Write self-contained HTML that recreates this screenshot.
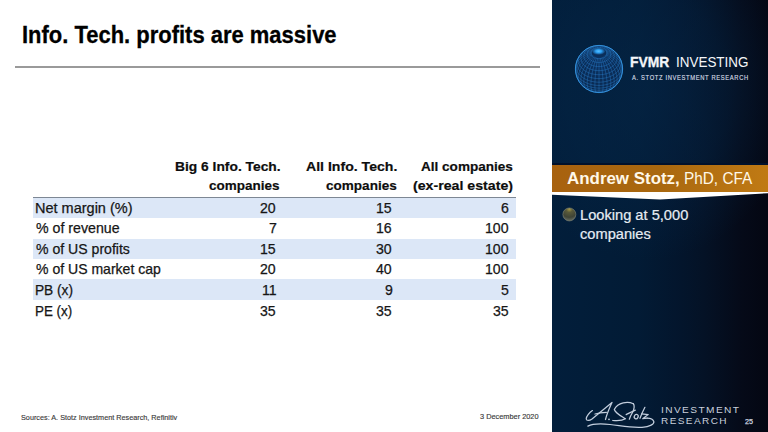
<!DOCTYPE html>
<html><head><meta charset="utf-8">
<style>
html,body{margin:0;padding:0;}
body{width:768px;height:432px;overflow:hidden;position:relative;background:#fff;font-family:"Liberation Sans",sans-serif;}
.t{position:absolute;white-space:nowrap;transform-origin:0 0;}
.a{position:absolute;}
</style></head><body>
<div class="a" style="left:15px;top:66.1px;width:525px;height:1.5px;background:#9a9a9a"></div>
<div class="a" style="left:33px;top:196.8px;width:483px;height:1.2px;background:#7d8794"></div>
<div class="a" style="left:33px;top:198px;width:483px;height:19.9px;background:#dce7f7"></div>
<div class="a" style="left:33px;top:238.6px;width:483px;height:20.4px;background:#dce7f7"></div>
<div class="a" style="left:33px;top:279.4px;width:483px;height:20.6px;background:#dce7f7"></div>

<div class="a" style="left:552px;top:0;width:216px;height:432px;background:radial-gradient(ellipse 150px 170px at 95px 90px,rgba(5,40,75,0.55) 0%,rgba(5,40,75,0.35) 55%,rgba(5,40,75,0) 100%),linear-gradient(to right,#021e3b 0%,#021b35 40%,#03152c 60%,#041226 70%,#050a18 88%,#040612 100%)"></div>
<div class="a" style="left:552px;top:162.5px;width:216px;height:2.5px;background:#01112b"></div>
<div class="a" style="left:552px;top:165px;width:216px;height:27px;background:linear-gradient(to right,#a8620f 0%,#a9680f 50%,#c07a14 100%)"></div>
<svg class="a" style="left:552px;top:190px" width="216" height="12" viewBox="0 0 216 12">
<polygon points="0,2 216,2 216,3.2 108,9.6 0,4.8" fill="#fff"/>
</svg>

<svg class="a" style="left:569px;top:38.5px" width="60" height="60" viewBox="0 0 60 60">
<defs>
<radialGradient id="gf" cx="50%" cy="40%" r="60%">
<stop offset="0" stop-color="#0b3262"/><stop offset="1" stop-color="#09284e"/>
</radialGradient>
<radialGradient id="gp" cx="50%" cy="50%" r="50%">
<stop offset="0" stop-color="#5cc0ff"/><stop offset="0.45" stop-color="#2a9ef0"/><stop offset="1" stop-color="#2a8ee0" stop-opacity="0.15"/>
</radialGradient>
</defs>
<circle cx="30" cy="30" r="23.7" fill="url(#gf)"/>
<path d="M30.00,53.47 L30.95,53.45 L31.89,53.40 L32.83,53.32 L33.76,53.20 L34.68,53.04 L35.59,52.86 L36.48,52.64 L37.35,52.38 L38.21,52.10 L39.04,51.79 L39.85,51.44 M20.15,51.44 L20.96,51.79 L21.79,52.10 L22.65,52.38 L23.52,52.64 L24.41,52.86 L25.32,53.04 L26.24,53.20 L27.17,53.32 L28.11,53.40 L29.05,53.45 L30.00,53.47 M30.00,52.69 L31.07,52.67 L32.14,52.61 L33.20,52.51 L34.25,52.38 L35.29,52.20 L36.32,51.99 L37.32,51.74 L38.31,51.46 L39.28,51.14 L40.22,50.78 L41.13,50.40 L42.01,49.97 L42.86,49.52 L43.68,49.04 L44.45,48.53 L45.19,47.99 L45.88,47.42 L46.53,46.83 M13.47,46.83 L14.12,47.42 L14.81,47.99 L15.55,48.53 L16.32,49.04 L17.14,49.52 L17.99,49.97 L18.87,50.40 L19.78,50.78 L20.72,51.14 L21.69,51.46 L22.68,51.74 L23.68,51.99 L24.71,52.20 L25.75,52.38 L26.80,52.51 L27.86,52.61 L28.93,52.67 L30.00,52.69 M30.00,51.21 L31.16,51.19 L32.32,51.13 L33.47,51.02 L34.61,50.87 L35.74,50.69 L36.85,50.46 L37.95,50.19 L39.02,49.88 L40.07,49.53 L41.09,49.15 L42.08,48.73 L43.04,48.27 L43.96,47.78 L44.84,47.25 L45.68,46.70 L46.48,46.11 L47.23,45.50 L47.94,44.86 L48.60,44.20 L49.21,43.51 L49.76,42.80 L50.26,42.07 L50.70,41.33 M9.30,41.33 L9.74,42.07 L10.24,42.80 L10.79,43.51 L11.40,44.20 L12.06,44.86 L12.77,45.50 L13.52,46.11 L14.32,46.70 L15.16,47.25 L16.04,47.78 L16.96,48.27 L17.92,48.73 L18.91,49.15 L19.93,49.53 L20.98,49.88 L22.05,50.19 L23.15,50.46 L24.26,50.69 L25.39,50.87 L26.53,51.02 L27.68,51.13 L28.84,51.19 L30.00,51.21 M30.00,49.09 L31.22,49.07 L32.43,49.00 L33.64,48.89 L34.83,48.74 L36.02,48.54 L37.18,48.30 L38.33,48.02 L39.45,47.70 L40.55,47.33 L41.62,46.93 L42.66,46.49 L43.66,46.01 L44.63,45.49 L45.55,44.95 L46.43,44.36 L47.27,43.75 L48.06,43.11 L48.80,42.44 L49.49,41.74 L50.13,41.02 L50.71,40.28 L51.23,39.51 L51.70,38.73 L52.10,37.94 L52.45,37.13 L52.73,36.30 M7.27,36.30 L7.55,37.13 L7.90,37.94 L8.30,38.73 L8.77,39.51 L9.29,40.28 L9.87,41.02 L10.51,41.74 L11.20,42.44 L11.94,43.11 L12.73,43.75 L13.57,44.36 L14.45,44.95 L15.37,45.49 L16.34,46.01 L17.34,46.49 L18.38,46.93 L19.45,47.33 L20.55,47.70 L21.67,48.02 L22.82,48.30 L23.98,48.54 L25.17,48.74 L26.36,48.89 L27.57,49.00 L28.78,49.07 L30.00,49.09 M30.00,46.39 L31.24,46.37 L32.47,46.30 L33.69,46.19 L34.91,46.04 L36.11,45.84 L37.29,45.59 L38.46,45.31 L39.60,44.98 L40.71,44.61 L41.80,44.20 L42.85,43.75 L43.87,43.26 L44.85,42.74 L45.79,42.18 L46.69,41.59 L47.54,40.97 L48.34,40.32 L49.09,39.64 L49.79,38.93 L50.44,38.20 L51.03,37.44 L51.56,36.67 L52.03,35.88 L52.44,35.07 L52.80,34.24 L53.08,33.41 L53.31,32.56 L53.47,31.71 L53.57,30.86 L53.60,30.00 M6.43,30.86 L6.53,31.71 L6.69,32.56 L6.92,33.41 L7.20,34.24 L7.56,35.07 L7.97,35.88 L8.44,36.67 L8.97,37.44 L9.56,38.20 L10.21,38.93 L10.91,39.64 L11.66,40.32 L12.46,40.97 L13.31,41.59 L14.21,42.18 L15.15,42.74 L16.13,43.26 L17.15,43.75 L18.20,44.20 L19.29,44.61 L20.40,44.98 L21.54,45.31 L22.71,45.59 L23.89,45.84 L25.09,46.04 L26.31,46.19 L27.53,46.30 L28.76,46.37 L30.00,46.39 M30.00,43.20 L31.22,43.17 L32.43,43.11 L33.64,43.00 L34.83,42.84 L36.02,42.65 L37.18,42.41 L38.33,42.12 L39.45,41.80 L40.55,41.44 L41.62,41.03 L42.66,40.59 L43.66,40.11 L44.63,39.60 L45.55,39.05 L46.43,38.47 L47.27,37.86 L48.06,37.21 L48.80,36.54 L49.49,35.85 L50.13,35.12 L50.71,34.38 L51.23,33.62 L51.70,32.84 L52.10,32.04 L52.45,31.23 L52.73,30.41 L52.96,29.58 L53.11,28.74 L53.21,27.90 L53.24,27.05 L53.21,26.21 L53.11,25.36 L52.96,24.53 M7.04,24.53 L6.89,25.36 L6.79,26.21 L6.76,27.05 L6.79,27.90 L6.89,28.74 L7.04,29.58 L7.27,30.41 L7.55,31.23 L7.90,32.04 L8.30,32.84 L8.77,33.62 L9.29,34.38 L9.87,35.12 L10.51,35.85 L11.20,36.54 L11.94,37.21 L12.73,37.86 L13.57,38.47 L14.45,39.05 L15.37,39.60 L16.34,40.11 L17.34,40.59 L18.38,41.03 L19.45,41.44 L20.55,41.80 L21.67,42.12 L22.82,42.41 L23.98,42.65 L25.17,42.84 L26.36,43.00 L27.57,43.11 L28.78,43.17 L30.00,43.20 M30.00,39.60 L31.16,39.58 L32.32,39.51 L33.47,39.41 L34.61,39.26 L35.74,39.07 L36.85,38.84 L37.95,38.58 L39.02,38.27 L40.07,37.92 L41.09,37.54 L42.08,37.11 L43.04,36.66 L43.96,36.17 L44.84,35.64 L45.68,35.09 L46.48,34.50 L47.23,33.89 L47.94,33.25 L48.60,32.58 L49.21,31.90 L49.76,31.19 L50.26,30.46 L50.70,29.71 L51.09,28.95 L51.42,28.18 L51.69,27.40 L51.90,26.60 L52.06,25.80 L52.15,25.00 L52.18,24.19 L52.15,23.39 L52.06,22.58 L51.90,21.78 L51.69,20.99 L51.42,20.21 L51.09,19.43 M8.91,19.43 L8.58,20.21 L8.31,20.99 L8.10,21.78 L7.94,22.58 L7.85,23.39 L7.82,24.19 L7.85,25.00 L7.94,25.80 L8.10,26.60 L8.31,27.40 L8.58,28.18 L8.91,28.95 L9.30,29.71 L9.74,30.46 L10.24,31.19 L10.79,31.90 L11.40,32.58 L12.06,33.25 L12.77,33.89 L13.52,34.50 L14.32,35.09 L15.16,35.64 L16.04,36.17 L16.96,36.66 L17.92,37.11 L18.91,37.54 L19.93,37.92 L20.98,38.27 L22.05,38.58 L23.15,38.84 L24.26,39.07 L25.39,39.26 L26.53,39.41 L27.68,39.51 L28.84,39.58 L30.00,39.60 M30.00,35.71 L31.07,35.69 L32.14,35.63 L33.20,35.53 L34.25,35.40 L35.29,35.23 L36.32,35.01 L37.32,34.77 L38.31,34.48 L39.28,34.16 L40.22,33.81 L41.13,33.42 L42.01,33.00 L42.86,32.55 L43.68,32.06 L44.45,31.55 L45.19,31.01 L45.88,30.45 L46.53,29.86 L47.14,29.24 L47.70,28.61 L48.21,27.96 L48.67,27.29 L49.08,26.60 L49.44,25.90 L49.74,25.19 L49.99,24.46 L50.19,23.73 L50.33,23.00 L50.41,22.25 L50.44,21.51 L50.41,20.77 L50.33,20.03 L50.19,19.29 L49.99,18.56 L49.74,17.84 L49.44,17.12 L49.08,16.42 L48.67,15.74 L48.21,15.07 L47.70,14.41 L47.14,13.78 M12.86,13.78 L12.30,14.41 L11.79,15.07 L11.33,15.74 L10.92,16.42 L10.56,17.12 L10.26,17.84 L10.01,18.56 L9.81,19.29 L9.67,20.03 L9.59,20.77 L9.56,21.51 L9.59,22.25 L9.67,23.00 L9.81,23.73 L10.01,24.46 L10.26,25.19 L10.56,25.90 L10.92,26.60 L11.33,27.29 L11.79,27.96 L12.30,28.61 L12.86,29.24 L13.47,29.86 L14.12,30.45 L14.81,31.01 L15.55,31.55 L16.32,32.06 L17.14,32.55 L17.99,33.00 L18.87,33.42 L19.78,33.81 L20.72,34.16 L21.69,34.48 L22.68,34.77 L23.68,35.01 L24.71,35.23 L25.75,35.40 L26.80,35.53 L27.86,35.63 L28.93,35.69 L30.00,35.71 M30.00,31.65 L30.95,31.63 L31.89,31.58 L32.83,31.49 L33.76,31.37 L34.68,31.22 L35.59,31.03 L36.48,30.81 L37.35,30.56 L38.21,30.28 L39.04,29.96 L39.85,29.62 L40.63,29.25 L41.38,28.85 L42.10,28.42 L42.78,27.97 L43.44,27.49 L44.05,26.99 L44.63,26.47 L45.16,25.93 L45.66,25.37 L46.11,24.79 L46.52,24.20 L46.88,23.59 L47.19,22.97 L47.46,22.34 L47.68,21.70 L47.86,21.05 L47.98,20.40 L48.05,19.75 L48.08,19.09 L48.05,18.43 L47.98,17.78 L47.86,17.12 L47.68,16.48 L47.46,15.84 L47.19,15.21 L46.88,14.59 L46.52,13.98 L46.11,13.39 L45.66,12.81 L45.16,12.25 L44.63,11.71 L44.05,11.18 L43.44,10.68 L42.78,10.21 L42.10,9.75 L41.38,9.33 L40.63,8.93 M19.37,8.93 L18.62,9.33 L17.90,9.75 L17.22,10.21 L16.56,10.68 L15.95,11.18 L15.37,11.71 L14.84,12.25 L14.34,12.81 L13.89,13.39 L13.48,13.98 L13.12,14.59 L12.81,15.21 L12.54,15.84 L12.32,16.48 L12.14,17.12 L12.02,17.78 L11.95,18.43 L11.92,19.09 L11.95,19.75 L12.02,20.40 L12.14,21.05 L12.32,21.70 L12.54,22.34 L12.81,22.97 L13.12,23.59 L13.48,24.20 L13.89,24.79 L14.34,25.37 L14.84,25.93 L15.37,26.47 L15.95,26.99 L16.56,27.49 L17.22,27.97 L17.90,28.42 L18.62,28.85 L19.37,29.25 L20.15,29.62 L20.96,29.96 L21.79,30.28 L22.65,30.56 L23.52,30.81 L24.41,31.03 L25.32,31.22 L26.24,31.37 L27.17,31.49 L28.11,31.58 L29.05,31.63 L30.00,31.65 M30.00,27.53 L30.79,27.52 L31.59,27.48 L32.37,27.40 L33.15,27.30 L33.93,27.17 L34.69,27.02 L35.44,26.83 L36.17,26.62 L36.89,26.38 L37.58,26.12 L38.26,25.83 L38.92,25.52 L39.55,25.18 L40.15,24.83 L40.73,24.45 L41.27,24.05 L41.79,23.63 L42.27,23.19 L42.72,22.73 L43.14,22.26 L43.52,21.78 L43.86,21.28 L44.16,20.77 L44.43,20.25 L44.65,19.72 L44.84,19.19 L44.98,18.64 L45.09,18.10 L45.15,17.55 L45.17,17.00 L45.15,16.44 L45.09,15.89 L44.98,15.35 L44.84,14.80 L44.65,14.27 L44.43,13.74 L44.16,13.22 L43.86,12.71 L43.52,12.21 L43.14,11.73 L42.72,11.26 L42.27,10.80 L41.79,10.36 L41.27,9.94 L40.73,9.54 L40.15,9.16 L39.55,8.81 L38.92,8.47 L38.26,8.16 L37.58,7.87 L36.89,7.61 L36.17,7.37 L35.44,7.16 L34.69,6.97 L33.93,6.82 L33.15,6.69 L32.37,6.59 L31.59,6.52 L30.79,6.47 L30.00,6.46 L29.21,6.47 L28.41,6.52 L27.63,6.59 L26.85,6.69 L26.07,6.82 L25.31,6.97 L24.56,7.16 L23.83,7.37 L23.11,7.61 L22.42,7.87 L21.74,8.16 L21.08,8.47 L20.45,8.81 L19.85,9.16 L19.27,9.54 L18.73,9.94 L18.21,10.36 L17.73,10.80 L17.28,11.26 L16.86,11.73 L16.48,12.21 L16.14,12.71 L15.84,13.22 L15.57,13.74 L15.35,14.27 L15.16,14.80 L15.02,15.35 L14.91,15.89 L14.85,16.44 L14.83,17.00 L14.85,17.55 L14.91,18.10 L15.02,18.64 L15.16,19.19 L15.35,19.72 L15.57,20.25 L15.84,20.77 L16.14,21.28 L16.48,21.78 L16.86,22.26 L17.28,22.73 L17.73,23.19 L18.21,23.63 L18.73,24.05 L19.27,24.45 L19.85,24.83 L20.45,25.18 L21.08,25.52 L21.74,25.83 L22.42,26.12 L23.11,26.38 L23.83,26.62 L24.56,26.83 L25.31,27.02 L26.07,27.17 L26.85,27.30 L27.63,27.40 L28.41,27.48 L29.21,27.52 L30.00,27.53 M30.00,23.49 L30.62,23.48 L31.23,23.45 L31.85,23.39 L32.45,23.32 L33.05,23.22 L33.65,23.09 L34.23,22.95 L34.80,22.79 L35.36,22.60 L35.90,22.40 L36.43,22.17 L36.94,21.93 L37.43,21.67 L37.90,21.39 L38.34,21.09 L38.77,20.78 L39.17,20.46 L39.55,20.12 L39.90,19.76 L40.22,19.40 L40.51,19.02 L40.78,18.63 L41.02,18.24 L41.22,17.83 L41.40,17.42 L41.54,17.00 L41.65,16.58 L41.74,16.15 L41.78,15.73 L41.80,15.30 L41.78,14.87 L41.74,14.44 L41.65,14.02 L41.54,13.59 L41.40,13.18 L41.22,12.76 L41.02,12.36 L40.78,11.96 L40.51,11.58 L40.22,11.20 L39.90,10.83 L39.55,10.48 L39.17,10.14 L38.77,9.81 L38.34,9.50 L37.90,9.21 L37.43,8.93 L36.94,8.67 L36.43,8.42 L35.90,8.20 L35.36,7.99 L34.80,7.81 L34.23,7.65 L33.65,7.50 L33.05,7.38 L32.45,7.28 L31.85,7.20 L31.23,7.15 L30.62,7.11 L30.00,7.10 L29.38,7.11 L28.77,7.15 L28.15,7.20 L27.55,7.28 L26.95,7.38 L26.35,7.50 L25.77,7.65 L25.20,7.81 L24.64,7.99 L24.10,8.20 L23.57,8.42 L23.06,8.67 L22.57,8.93 L22.10,9.21 L21.66,9.50 L21.23,9.81 L20.83,10.14 L20.45,10.48 L20.10,10.83 L19.78,11.20 L19.49,11.58 L19.22,11.96 L18.98,12.36 L18.78,12.76 L18.60,13.18 L18.46,13.59 L18.35,14.02 L18.26,14.44 L18.22,14.87 L18.20,15.30 L18.22,15.73 L18.26,16.15 L18.35,16.58 L18.46,17.00 L18.60,17.42 L18.78,17.83 L18.98,18.24 L19.22,18.63 L19.49,19.02 L19.78,19.40 L20.10,19.76 L20.45,20.12 L20.83,20.46 L21.23,20.78 L21.66,21.09 L22.10,21.39 L22.57,21.67 L23.06,21.93 L23.57,22.17 L24.10,22.40 L24.64,22.60 L25.20,22.79 L25.77,22.95 L26.35,23.09 L26.95,23.22 L27.55,23.32 L28.15,23.39 L28.77,23.45 L29.38,23.48 L30.00,23.49 M30.00,19.65 L30.42,19.65 L30.84,19.62 L31.26,19.59 L31.68,19.53 L32.09,19.46 L32.49,19.38 L32.89,19.28 L33.28,19.17 L33.66,19.04 L34.04,18.90 L34.40,18.75 L34.74,18.58 L35.08,18.40 L35.40,18.21 L35.71,18.01 L36.00,17.80 L36.27,17.58 L36.53,17.34 L36.77,17.10 L36.99,16.85 L37.19,16.59 L37.37,16.33 L37.54,16.06 L37.68,15.78 L37.80,15.50 L37.90,15.21 L37.97,14.92 L38.03,14.63 L38.06,14.34 L38.07,14.05 L38.06,13.75 L38.03,13.46 L37.97,13.17 L37.90,12.88 L37.80,12.60 L37.68,12.31 L37.54,12.04 L37.37,11.77 L37.19,11.50 L36.99,11.24 L36.77,10.99 L36.53,10.75 L36.27,10.52 L36.00,10.30 L35.71,10.08 L35.40,9.88 L35.08,9.69 L34.74,9.51 L34.40,9.34 L34.04,9.19 L33.66,9.05 L33.28,8.93 L32.89,8.81 L32.49,8.71 L32.09,8.63 L31.68,8.56 L31.26,8.51 L30.84,8.47 L30.42,8.45 L30.00,8.44 L29.58,8.45 L29.16,8.47 L28.74,8.51 L28.32,8.56 L27.91,8.63 L27.51,8.71 L27.11,8.81 L26.72,8.93 L26.34,9.05 L25.96,9.19 L25.60,9.34 L25.26,9.51 L24.92,9.69 L24.60,9.88 L24.29,10.08 L24.00,10.30 L23.73,10.52 L23.47,10.75 L23.23,10.99 L23.01,11.24 L22.81,11.50 L22.63,11.77 L22.46,12.04 L22.32,12.31 L22.20,12.60 L22.10,12.88 L22.03,13.17 L21.97,13.46 L21.94,13.75 L21.93,14.05 L21.94,14.34 L21.97,14.63 L22.03,14.92 L22.10,15.21 L22.20,15.50 L22.32,15.78 L22.46,16.06 L22.63,16.33 L22.81,16.59 L23.01,16.85 L23.23,17.10 L23.47,17.34 L23.73,17.58 L24.00,17.80 L24.29,18.01 L24.60,18.21 L24.92,18.40 L25.26,18.58 L25.60,18.75 L25.96,18.90 L26.34,19.04 L26.72,19.17 L27.11,19.28 L27.51,19.38 L27.91,19.46 L28.32,19.53 L28.74,19.59 L29.16,19.62 L29.58,19.65 L30.00,19.65 M30.00,53.60 L30.00,53.54 L30.00,53.42 L30.00,53.24 L30.00,53.00 L30.00,52.69 L30.00,52.31 L30.00,51.88 L30.00,51.39 L30.00,50.84 L30.00,50.23 L30.00,49.57 L30.00,48.85 L30.00,48.08 L30.00,47.26 L30.00,46.39 L30.00,45.48 L30.00,44.53 L30.00,43.54 L30.00,42.51 L30.00,41.44 L30.00,40.35 L30.00,39.22 L30.00,38.07 L30.00,36.90 L30.00,35.71 L30.00,34.50 L30.00,33.28 L30.00,32.06 L30.00,30.82 L30.00,29.59 L30.00,28.35 L30.00,27.12 L30.00,25.90 L30.00,24.69 L30.00,23.49 L30.00,22.32 L30.00,21.16 L30.00,20.03 L30.00,18.92 M32.90,53.42 L33.05,53.36 L33.18,53.23 L33.32,53.04 L33.44,52.79 L33.55,52.47 L33.65,52.09 L33.74,51.65 L33.83,51.16 L33.90,50.60 L33.96,49.99 L34.01,49.32 L34.05,48.60 L34.08,47.83 L34.09,47.01 L34.10,46.14 L34.09,45.23 L34.08,44.28 L34.05,43.29 L34.01,42.26 L33.96,41.20 L33.90,40.11 L33.83,38.99 L33.74,37.84 L33.65,36.68 L33.55,35.49 L33.44,34.29 L33.32,33.08 L33.18,31.86 L33.05,30.64 L32.90,29.41 L32.74,28.19 L32.58,26.97 L32.41,25.76 L32.23,24.56 L32.05,23.37 L31.86,22.20 L31.67,21.06 L31.47,19.94 L31.27,18.84 M36.00,52.81 L36.27,52.66 L36.53,52.44 L36.77,52.17 L36.99,51.83 L37.19,51.43 L37.37,50.98 L37.54,50.47 L37.68,49.90 L37.80,49.27 L37.90,48.60 L37.97,47.87 L38.03,47.10 L38.06,46.27 L38.07,45.41 L38.06,44.50 L38.03,43.55 L37.97,42.56 L37.90,41.54 L37.80,40.49 L37.68,39.41 L37.54,38.30 L37.37,37.17 L37.19,36.02 L36.99,34.85 L36.77,33.67 L36.53,32.48 L36.27,31.29 L36.00,30.09 L35.71,28.89 L35.40,27.69 L35.08,26.50 L34.74,25.32 L34.40,24.15 L34.04,23.00 L33.66,21.87 L33.28,20.76 L32.89,19.67 L32.49,18.61 M39.17,51.72 L39.55,51.46 L39.90,51.15 L40.22,50.78 L40.51,50.36 L40.78,49.88 L41.02,49.34 L41.22,48.75 L41.40,48.11 L41.54,47.42 L41.65,46.68 L41.74,45.89 L41.78,45.07 L41.80,44.20 L41.78,43.29 L41.74,42.35 L41.65,41.37 L41.54,40.36 L41.40,39.32 L41.22,38.26 L41.02,37.17 L40.78,36.07 L40.51,34.94 L40.22,33.81 L39.90,32.66 L39.55,31.51 L39.17,30.35 L38.77,29.19 L38.34,28.04 L37.90,26.88 L37.43,25.74 L36.94,24.61 L36.43,23.49 L35.90,22.40 L35.36,21.32 L34.80,20.27 L34.23,19.24 L33.65,18.24 M42.27,50.14 L42.72,49.78 L43.14,49.36 L43.52,48.90 L43.86,48.38 L44.16,47.81 L44.43,47.19 L44.65,46.52 L44.84,45.81 L44.98,45.06 L45.09,44.26 L45.15,43.43 L45.17,42.56 L45.15,41.65 L45.09,40.72 L44.98,39.75 L44.84,38.75 L44.65,37.74 L44.43,36.70 L44.16,35.64 L43.86,34.57 L43.52,33.48 L43.14,32.39 L42.72,31.29 L42.27,30.18 L41.79,29.08 L41.27,27.97 L40.73,26.88 L40.15,25.79 L39.55,24.71 L38.92,23.65 L38.26,22.60 L37.58,21.58 L36.89,20.58 L36.17,19.60 L35.44,18.65 L34.69,17.74 M45.16,48.08 L45.66,47.61 L46.11,47.10 L46.52,46.53 L46.88,45.92 L47.19,45.27 L47.46,44.57 L47.68,43.84 L47.86,43.06 L47.98,42.25 L48.05,41.41 L48.08,40.54 L48.05,39.63 L47.98,38.71 L47.86,37.75 L47.68,36.78 L47.46,35.78 L47.19,34.78 L46.88,33.75 L46.52,32.72 L46.11,31.68 L45.66,30.64 L45.16,29.59 L44.63,28.55 L44.05,27.51 L43.44,26.47 L42.78,25.45 L42.10,24.44 L41.38,23.44 L40.63,22.46 L39.85,21.50 L39.04,20.57 L38.21,19.66 L37.35,18.78 L36.48,17.93 L35.59,17.11 M48.21,45.01 L48.67,44.39 L49.08,43.74 L49.44,43.04 L49.74,42.31 L49.99,41.55 L50.19,40.75 L50.33,39.93 L50.41,39.07 L50.44,38.20 L50.41,37.30 L50.33,36.38 L50.19,35.44 L49.99,34.49 L49.74,33.52 L49.44,32.55 L49.08,31.57 L48.67,30.58 L48.21,29.60 L47.70,28.61 L47.14,27.63 L46.53,26.65 L45.88,25.69 L45.19,24.73 L44.45,23.79 L43.68,22.87 L42.86,21.97 L42.01,21.08 L41.13,20.23 L40.22,19.40 L39.28,18.60 L38.31,17.83 L37.32,17.09 L36.32,16.39 M51.09,40.58 L51.42,39.81 L51.69,39.01 L51.90,38.19 L52.06,37.35 L52.15,36.49 L52.18,35.61 L52.15,34.71 L52.06,33.80 L51.90,32.88 L51.69,31.95 L51.42,31.02 L51.09,30.09 L50.70,29.15 L50.26,28.22 L49.76,27.29 L49.21,26.37 L48.60,25.46 L47.94,24.56 L47.23,23.67 L46.48,22.81 L45.68,21.96 L44.84,21.14 L43.96,20.34 L43.04,19.56 L42.08,18.82 L41.09,18.10 L40.07,17.42 L39.02,16.77 L37.95,16.16 L36.85,15.59 M52.96,35.47 L53.11,34.61 L53.21,33.73 L53.24,32.85 L53.21,31.95 L53.11,31.06 L52.96,30.16 L52.73,29.25 L52.45,28.36 L52.10,27.46 L51.70,26.57 L51.23,25.70 L50.71,24.83 L50.13,23.98 L49.49,23.14 L48.80,22.32 L48.06,21.53 L47.27,20.76 L46.43,20.01 L45.55,19.29 L44.63,18.60 L43.66,17.94 L42.66,17.31 L41.62,16.72 L40.55,16.17 L39.45,15.65 L38.33,15.17 L37.18,14.73 M53.60,30.00 L53.57,29.11 L53.47,28.23 L53.31,27.34 L53.08,26.47 L52.80,25.61 L52.44,24.75 L52.03,23.92 L51.56,23.10 L51.03,22.29 L50.44,21.51 L49.79,20.75 L49.09,20.02 L48.34,19.32 L47.54,18.64 L46.69,18.00 L45.79,17.38 L44.85,16.81 L43.87,16.27 L42.85,15.76 L41.80,15.30 L40.71,14.87 L39.60,14.49 L38.46,14.15 L37.29,13.85 M52.73,23.69 L52.45,22.86 L52.10,22.05 L51.70,21.26 L51.23,20.49 L50.71,19.76 L50.13,19.05 L49.49,18.37 L48.80,17.72 L48.06,17.10 L47.27,16.52 L46.43,15.98 L45.55,15.48 L44.63,15.02 L43.66,14.59 L42.66,14.21 L41.62,13.87 L40.55,13.58 L39.45,13.33 L38.33,13.13 L37.18,12.97 M50.70,18.68 L50.26,17.97 L49.76,17.30 L49.21,16.66 L48.60,16.05 L47.94,15.49 L47.23,14.96 L46.48,14.47 L45.68,14.03 L44.84,13.63 L43.96,13.28 L43.04,12.97 L42.08,12.71 L41.09,12.49 L40.07,12.33 L39.02,12.21 L37.95,12.14 L36.85,12.12 M47.70,14.41 L47.14,13.88 L46.53,13.39 L45.88,12.95 L45.19,12.55 L44.45,12.20 L43.68,11.90 L42.86,11.65 L42.01,11.45 L41.13,11.30 L40.22,11.20 L39.28,11.15 L38.31,11.16 L37.32,11.21 L36.32,11.32 M44.63,11.50 L44.05,11.13 L43.44,10.81 L42.78,10.54 L42.10,10.33 L41.38,10.18 L40.63,10.07 L39.85,10.02 L39.04,10.03 L38.21,10.09 L37.35,10.21 L36.48,10.37 L35.59,10.60 M41.79,9.56 L41.27,9.31 L40.73,9.12 L40.15,8.98 L39.55,8.90 L38.92,8.88 L38.26,8.92 L37.58,9.02 L36.89,9.17 L36.17,9.38 L35.44,9.65 L34.69,9.97 M38.77,8.09 L38.34,7.96 L37.90,7.88 L37.43,7.87 L36.94,7.92 L36.43,8.03 L35.90,8.20 L35.36,8.43 L34.80,8.72 L34.23,9.06 L33.65,9.47 M35.71,7.10 L35.40,7.08 L35.08,7.11 L34.74,7.21 L34.40,7.37 L34.04,7.60 L33.66,7.88 L33.28,8.23 L32.89,8.63 L32.49,9.09 M32.74,6.58 L32.58,6.65 L32.41,6.78 L32.23,6.97 L32.05,7.23 L31.86,7.54 L31.67,7.92 L31.47,8.37 L31.27,8.87 M30.00,6.41 L30.00,6.49 L30.00,6.63 L30.00,6.83 L30.00,7.10 L30.00,7.43 L30.00,7.82 L30.00,8.28 L30.00,8.79 M27.26,6.58 L27.42,6.65 L27.59,6.78 L27.77,6.97 L27.95,7.23 L28.14,7.54 L28.33,7.92 L28.53,8.37 L28.73,8.87 M24.29,7.10 L24.60,7.08 L24.92,7.11 L25.26,7.21 L25.60,7.37 L25.96,7.60 L26.34,7.88 L26.72,8.23 L27.11,8.63 L27.51,9.09 M21.23,8.09 L21.66,7.96 L22.10,7.88 L22.57,7.87 L23.06,7.92 L23.57,8.03 L24.10,8.20 L24.64,8.43 L25.20,8.72 L25.77,9.06 L26.35,9.47 M18.21,9.56 L18.73,9.31 L19.27,9.12 L19.85,8.98 L20.45,8.90 L21.08,8.88 L21.74,8.92 L22.42,9.02 L23.11,9.17 L23.83,9.38 L24.56,9.65 L25.31,9.97 M15.37,11.50 L15.95,11.13 L16.56,10.81 L17.22,10.54 L17.90,10.33 L18.62,10.18 L19.37,10.07 L20.15,10.02 L20.96,10.03 L21.79,10.09 L22.65,10.21 L23.52,10.37 L24.41,10.60 M12.30,14.41 L12.86,13.88 L13.47,13.39 L14.12,12.95 L14.81,12.55 L15.55,12.20 L16.32,11.90 L17.14,11.65 L17.99,11.45 L18.87,11.30 L19.78,11.20 L20.72,11.15 L21.69,11.16 L22.68,11.21 L23.68,11.32 M9.30,18.68 L9.74,17.97 L10.24,17.30 L10.79,16.66 L11.40,16.05 L12.06,15.49 L12.77,14.96 L13.52,14.47 L14.32,14.03 L15.16,13.63 L16.04,13.28 L16.96,12.97 L17.92,12.71 L18.91,12.49 L19.93,12.33 L20.98,12.21 L22.05,12.14 L23.15,12.12 M7.27,23.69 L7.55,22.86 L7.90,22.05 L8.30,21.26 L8.77,20.49 L9.29,19.76 L9.87,19.05 L10.51,18.37 L11.20,17.72 L11.94,17.10 L12.73,16.52 L13.57,15.98 L14.45,15.48 L15.37,15.02 L16.34,14.59 L17.34,14.21 L18.38,13.87 L19.45,13.58 L20.55,13.33 L21.67,13.13 L22.82,12.97 M6.43,29.11 L6.53,28.23 L6.69,27.34 L6.92,26.47 L7.20,25.61 L7.56,24.75 L7.97,23.92 L8.44,23.10 L8.97,22.29 L9.56,21.51 L10.21,20.75 L10.91,20.02 L11.66,19.32 L12.46,18.64 L13.31,18.00 L14.21,17.38 L15.15,16.81 L16.13,16.27 L17.15,15.76 L18.20,15.30 L19.29,14.87 L20.40,14.49 L21.54,14.15 L22.71,13.85 M7.04,35.47 L6.89,34.61 L6.79,33.73 L6.76,32.85 L6.79,31.95 L6.89,31.06 L7.04,30.16 L7.27,29.25 L7.55,28.36 L7.90,27.46 L8.30,26.57 L8.77,25.70 L9.29,24.83 L9.87,23.98 L10.51,23.14 L11.20,22.32 L11.94,21.53 L12.73,20.76 L13.57,20.01 L14.45,19.29 L15.37,18.60 L16.34,17.94 L17.34,17.31 L18.38,16.72 L19.45,16.17 L20.55,15.65 L21.67,15.17 L22.82,14.73 M8.91,40.58 L8.58,39.81 L8.31,39.01 L8.10,38.19 L7.94,37.35 L7.85,36.49 L7.82,35.61 L7.85,34.71 L7.94,33.80 L8.10,32.88 L8.31,31.95 L8.58,31.02 L8.91,30.09 L9.30,29.15 L9.74,28.22 L10.24,27.29 L10.79,26.37 L11.40,25.46 L12.06,24.56 L12.77,23.67 L13.52,22.81 L14.32,21.96 L15.16,21.14 L16.04,20.34 L16.96,19.56 L17.92,18.82 L18.91,18.10 L19.93,17.42 L20.98,16.77 L22.05,16.16 L23.15,15.59 M11.79,45.01 L11.33,44.39 L10.92,43.74 L10.56,43.04 L10.26,42.31 L10.01,41.55 L9.81,40.75 L9.67,39.93 L9.59,39.07 L9.56,38.20 L9.59,37.30 L9.67,36.38 L9.81,35.44 L10.01,34.49 L10.26,33.52 L10.56,32.55 L10.92,31.57 L11.33,30.58 L11.79,29.60 L12.30,28.61 L12.86,27.63 L13.47,26.65 L14.12,25.69 L14.81,24.73 L15.55,23.79 L16.32,22.87 L17.14,21.97 L17.99,21.08 L18.87,20.23 L19.78,19.40 L20.72,18.60 L21.69,17.83 L22.68,17.09 L23.68,16.39 M14.84,48.08 L14.34,47.61 L13.89,47.10 L13.48,46.53 L13.12,45.92 L12.81,45.27 L12.54,44.57 L12.32,43.84 L12.14,43.06 L12.02,42.25 L11.95,41.41 L11.92,40.54 L11.95,39.63 L12.02,38.71 L12.14,37.75 L12.32,36.78 L12.54,35.78 L12.81,34.78 L13.12,33.75 L13.48,32.72 L13.89,31.68 L14.34,30.64 L14.84,29.59 L15.37,28.55 L15.95,27.51 L16.56,26.47 L17.22,25.45 L17.90,24.44 L18.62,23.44 L19.37,22.46 L20.15,21.50 L20.96,20.57 L21.79,19.66 L22.65,18.78 L23.52,17.93 L24.41,17.11 M17.73,50.14 L17.28,49.78 L16.86,49.36 L16.48,48.90 L16.14,48.38 L15.84,47.81 L15.57,47.19 L15.35,46.52 L15.16,45.81 L15.02,45.06 L14.91,44.26 L14.85,43.43 L14.83,42.56 L14.85,41.65 L14.91,40.72 L15.02,39.75 L15.16,38.75 L15.35,37.74 L15.57,36.70 L15.84,35.64 L16.14,34.57 L16.48,33.48 L16.86,32.39 L17.28,31.29 L17.73,30.18 L18.21,29.08 L18.73,27.97 L19.27,26.88 L19.85,25.79 L20.45,24.71 L21.08,23.65 L21.74,22.60 L22.42,21.58 L23.11,20.58 L23.83,19.60 L24.56,18.65 L25.31,17.74 M20.83,51.72 L20.45,51.46 L20.10,51.15 L19.78,50.78 L19.49,50.36 L19.22,49.88 L18.98,49.34 L18.78,48.75 L18.60,48.11 L18.46,47.42 L18.35,46.68 L18.26,45.89 L18.22,45.07 L18.20,44.20 L18.22,43.29 L18.26,42.35 L18.35,41.37 L18.46,40.36 L18.60,39.32 L18.78,38.26 L18.98,37.17 L19.22,36.07 L19.49,34.94 L19.78,33.81 L20.10,32.66 L20.45,31.51 L20.83,30.35 L21.23,29.19 L21.66,28.04 L22.10,26.88 L22.57,25.74 L23.06,24.61 L23.57,23.49 L24.10,22.40 L24.64,21.32 L25.20,20.27 L25.77,19.24 L26.35,18.24 M24.00,52.81 L23.73,52.66 L23.47,52.44 L23.23,52.17 L23.01,51.83 L22.81,51.43 L22.63,50.98 L22.46,50.47 L22.32,49.90 L22.20,49.27 L22.10,48.60 L22.03,47.87 L21.97,47.10 L21.94,46.27 L21.93,45.41 L21.94,44.50 L21.97,43.55 L22.03,42.56 L22.10,41.54 L22.20,40.49 L22.32,39.41 L22.46,38.30 L22.63,37.17 L22.81,36.02 L23.01,34.85 L23.23,33.67 L23.47,32.48 L23.73,31.29 L24.00,30.09 L24.29,28.89 L24.60,27.69 L24.92,26.50 L25.26,25.32 L25.60,24.15 L25.96,23.00 L26.34,21.87 L26.72,20.76 L27.11,19.67 L27.51,18.61 M27.10,53.42 L26.95,53.36 L26.82,53.23 L26.68,53.04 L26.56,52.79 L26.45,52.47 L26.35,52.09 L26.26,51.65 L26.17,51.16 L26.10,50.60 L26.04,49.99 L25.99,49.32 L25.95,48.60 L25.92,47.83 L25.91,47.01 L25.90,46.14 L25.91,45.23 L25.92,44.28 L25.95,43.29 L25.99,42.26 L26.04,41.20 L26.10,40.11 L26.17,38.99 L26.26,37.84 L26.35,36.68 L26.45,35.49 L26.56,34.29 L26.68,33.08 L26.82,31.86 L26.95,30.64 L27.10,29.41 L27.26,28.19 L27.42,26.97 L27.59,25.76 L27.77,24.56 L27.95,23.37 L28.14,22.20 L28.33,21.06 L28.53,19.94 L28.73,18.84" fill="none" stroke="#2c84d4" stroke-width="0.5" stroke-opacity="0.8"/>
<ellipse cx="29.6" cy="12.2" rx="6.5" ry="3.6" fill="url(#gp)"/>
<circle cx="30" cy="30" r="23.6" fill="none" stroke="#3796e2" stroke-width="0.9"/>
</svg>

<svg class="a" style="left:558px;top:204px" width="24" height="22" viewBox="0 0 24 22">
<defs>
<radialGradient id="bl" cx="50%" cy="8%" r="85%">
<stop offset="0" stop-color="#a89c48"/><stop offset="0.3" stop-color="#5a5a3a"/><stop offset="0.75" stop-color="#3f4436"/><stop offset="1" stop-color="#5e6458"/>
</radialGradient>
</defs>
<circle cx="11.35" cy="10.45" r="6.5" fill="url(#bl)" stroke="#7f8476" stroke-width="0.6"/>
</svg>

<svg class="a" style="left:580px;top:396px" width="80" height="36" viewBox="580 396 80 36" fill="none" stroke="#c3cedd" stroke-width="1.25" stroke-linecap="round" stroke-linejoin="round">
<path d="M592.4,410.6 C589.5,412.5 586,416.5 586.2,419 C586.6,421 589.5,420.8 592,419 L612,402.4 C610,407 607,413 605.5,419.5"/>
<path d="M595,414 C599,413 603,412.6 606.4,412.4"/>
<circle cx="609" cy="419.3" r="0.9" fill="#c3cedd" stroke="none"/>
<path d="M633.3,403.7 C628,401.3 618,402 614.3,409.5 C615.5,413.5 622,416.5 625.5,418.8 C622,421 616,420.8 612.8,420.5"/>
<path d="M633.3,403.7 C634.6,405 634.5,409 632.5,412.5 C631,415 629.8,417.5 629.3,419.2"/>
<path d="M626.2,414.6 C629,413.2 632,411.6 635.3,410.2"/>
<ellipse cx="636.2" cy="416.6" rx="1.9" ry="2.3" transform="rotate(25 636.2 416.6)"/>
<path d="M644.9,407.3 C643,411 641.2,415 640,418.3"/>
<path d="M641.6,413.9 L648.2,414.6 L642.7,418.7 L647.1,418.1"/>
<path d="M587.9,426.1 C592,424 600,423.5 610,424.5 C620,425.5 630,428 642,427.3 C650,426.8 654.5,424 653.8,421.5 C653,419 650,418.2 647.1,418.1"/>
</svg>

<div class="t" style="left:21.92px;top:23.90px;font-size:23.5px;line-height:23.5px;font-weight:bold;letter-spacing:0px;color:#000;transform:scaleX(0.9348);-webkit-text-stroke:0.3px #000;">Info. Tech. profits are massive</div>
<div class="t" style="left:174.78px;top:160.10px;font-size:13.6px;line-height:13.6px;font-weight:bold;letter-spacing:0px;color:#0d0d0d;transform:scaleX(1.0157);-webkit-text-stroke:0.2px #0d0d0d;">Big 6 Info. Tech.</div>
<div class="t" style="left:209.40px;top:179.30px;font-size:13.6px;line-height:13.6px;font-weight:bold;letter-spacing:0px;color:#0d0d0d;transform:scaleX(0.9915);-webkit-text-stroke:0.2px #0d0d0d;">companies</div>
<div class="t" style="left:305.60px;top:160.10px;font-size:13.6px;line-height:13.6px;font-weight:bold;letter-spacing:0px;color:#0d0d0d;transform:scaleX(1.0368);-webkit-text-stroke:0.2px #0d0d0d;">All Info. Tech.</div>
<div class="t" style="left:325.90px;top:179.30px;font-size:13.6px;line-height:13.6px;font-weight:bold;letter-spacing:0px;color:#0d0d0d;transform:scaleX(0.9958);-webkit-text-stroke:0.2px #0d0d0d;">companies</div>
<div class="t" style="left:421.10px;top:160.10px;font-size:13.6px;line-height:13.6px;font-weight:bold;letter-spacing:0px;color:#0d0d0d;transform:scaleX(0.9967);-webkit-text-stroke:0.2px #0d0d0d;">All companies</div>
<div class="t" style="left:413.06px;top:179.30px;font-size:13.6px;line-height:13.6px;font-weight:bold;letter-spacing:0px;color:#0d0d0d;transform:scaleX(1.0421);-webkit-text-stroke:0.2px #0d0d0d;">(ex-real estate)</div>
<div class="t" style="left:35.37px;top:200.60px;font-size:14.1px;line-height:14.1px;font-weight:normal;letter-spacing:0px;color:#161616;transform:scaleX(1.0290);-webkit-text-stroke:0.25px #161616;">Net margin (%)</div>
<div class="t" style="left:36.40px;top:221.20px;font-size:14.1px;line-height:14.1px;font-weight:normal;letter-spacing:0px;color:#161616;transform:scaleX(1.0060);-webkit-text-stroke:0.25px #161616;">% of revenue</div>
<div class="t" style="left:36.40px;top:241.80px;font-size:14.1px;line-height:14.1px;font-weight:normal;letter-spacing:0px;color:#161616;transform:scaleX(0.9989);-webkit-text-stroke:0.25px #161616;">% of US profits</div>
<div class="t" style="left:36.40px;top:262.40px;font-size:14.1px;line-height:14.1px;font-weight:normal;letter-spacing:0px;color:#161616;transform:scaleX(0.9960);-webkit-text-stroke:0.25px #161616;">% of US market cap</div>
<div class="t" style="left:35.43px;top:283.00px;font-size:14.1px;line-height:14.1px;font-weight:normal;letter-spacing:0px;color:#161616;transform:scaleX(0.9703);-webkit-text-stroke:0.25px #161616;">PB (x)</div>
<div class="t" style="left:35.45px;top:303.60px;font-size:14.1px;line-height:14.1px;font-weight:normal;letter-spacing:0px;color:#161616;transform:scaleX(0.9514);-webkit-text-stroke:0.25px #161616;">PE (x)</div>
<div class="t" style="left:259.71px;top:200.60px;font-size:14.3px;line-height:14.3px;font-weight:normal;letter-spacing:0px;color:#161616;transform:scaleX(0.9867);-webkit-text-stroke:0.25px #161616;">20</div>
<div class="t" style="left:376.11px;top:200.60px;font-size:14.3px;line-height:14.3px;font-weight:normal;letter-spacing:0px;color:#161616;transform:scaleX(0.9867);-webkit-text-stroke:0.25px #161616;">15</div>
<div class="t" style="left:500.71px;top:200.60px;font-size:14.3px;line-height:14.3px;font-weight:normal;letter-spacing:0px;color:#161616;transform:scaleX(0.9867);-webkit-text-stroke:0.25px #161616;">6</div>
<div class="t" style="left:268.59px;top:221.20px;font-size:14.3px;line-height:14.3px;font-weight:normal;letter-spacing:0px;color:#161616;transform:scaleX(0.9867);-webkit-text-stroke:0.25px #161616;">7</div>
<div class="t" style="left:376.11px;top:221.20px;font-size:14.3px;line-height:14.3px;font-weight:normal;letter-spacing:0px;color:#161616;transform:scaleX(0.9867);-webkit-text-stroke:0.25px #161616;">16</div>
<div class="t" style="left:484.92px;top:221.20px;font-size:14.3px;line-height:14.3px;font-weight:normal;letter-spacing:0px;color:#161616;transform:scaleX(0.9867);-webkit-text-stroke:0.25px #161616;">100</div>
<div class="t" style="left:259.71px;top:241.80px;font-size:14.3px;line-height:14.3px;font-weight:normal;letter-spacing:0px;color:#161616;transform:scaleX(0.9867);-webkit-text-stroke:0.25px #161616;">15</div>
<div class="t" style="left:376.11px;top:241.80px;font-size:14.3px;line-height:14.3px;font-weight:normal;letter-spacing:0px;color:#161616;transform:scaleX(0.9867);-webkit-text-stroke:0.25px #161616;">30</div>
<div class="t" style="left:484.92px;top:241.80px;font-size:14.3px;line-height:14.3px;font-weight:normal;letter-spacing:0px;color:#161616;transform:scaleX(0.9867);-webkit-text-stroke:0.25px #161616;">100</div>
<div class="t" style="left:259.71px;top:262.40px;font-size:14.3px;line-height:14.3px;font-weight:normal;letter-spacing:0px;color:#161616;transform:scaleX(0.9867);-webkit-text-stroke:0.25px #161616;">20</div>
<div class="t" style="left:376.11px;top:262.40px;font-size:14.3px;line-height:14.3px;font-weight:normal;letter-spacing:0px;color:#161616;transform:scaleX(0.9867);-webkit-text-stroke:0.25px #161616;">40</div>
<div class="t" style="left:484.92px;top:262.40px;font-size:14.3px;line-height:14.3px;font-weight:normal;letter-spacing:0px;color:#161616;transform:scaleX(0.9867);-webkit-text-stroke:0.25px #161616;">100</div>
<div class="t" style="left:261.69px;top:283.00px;font-size:14.3px;line-height:14.3px;font-weight:normal;letter-spacing:0px;color:#161616;transform:scaleX(0.9867);-webkit-text-stroke:0.25px #161616;">11</div>
<div class="t" style="left:384.99px;top:283.00px;font-size:14.3px;line-height:14.3px;font-weight:normal;letter-spacing:0px;color:#161616;transform:scaleX(0.9867);-webkit-text-stroke:0.25px #161616;">9</div>
<div class="t" style="left:500.71px;top:283.00px;font-size:14.3px;line-height:14.3px;font-weight:normal;letter-spacing:0px;color:#161616;transform:scaleX(0.9867);-webkit-text-stroke:0.25px #161616;">5</div>
<div class="t" style="left:259.71px;top:303.60px;font-size:14.3px;line-height:14.3px;font-weight:normal;letter-spacing:0px;color:#161616;transform:scaleX(0.9867);-webkit-text-stroke:0.25px #161616;">35</div>
<div class="t" style="left:376.11px;top:303.60px;font-size:14.3px;line-height:14.3px;font-weight:normal;letter-spacing:0px;color:#161616;transform:scaleX(0.9867);-webkit-text-stroke:0.25px #161616;">35</div>
<div class="t" style="left:492.81px;top:303.60px;font-size:14.3px;line-height:14.3px;font-weight:normal;letter-spacing:0px;color:#161616;transform:scaleX(0.9867);-webkit-text-stroke:0.25px #161616;">35</div>
<div class="t" style="left:20.89px;top:413.60px;font-size:8.0px;line-height:8.0px;font-weight:normal;letter-spacing:0px;color:#3a3a3a;transform:scaleX(0.9076);-webkit-text-stroke:0.15px #3a3a3a;">Sources: A. Stotz Investment Research, Refinitiv</div>
<div class="t" style="left:479.88px;top:413.20px;font-size:8.0px;line-height:8.0px;font-weight:normal;letter-spacing:0px;color:#3a3a3a;transform:scaleX(0.9206);-webkit-text-stroke:0.15px #3a3a3a;">3 December 2020</div>
<div class="t" style="left:579.95px;top:207.70px;font-size:14.0px;line-height:14.0px;font-weight:normal;letter-spacing:0px;color:#e6ecf3;transform:scaleX(1.0461);-webkit-text-stroke:0.2px #e6ecf3;">Looking at 5,000</div>
<div class="t" style="left:579.95px;top:227.40px;font-size:14.0px;line-height:14.0px;font-weight:normal;letter-spacing:0px;color:#e6ecf3;transform:scaleX(1.0461);-webkit-text-stroke:0.2px #e6ecf3;">companies</div>
<div class="t" style="left:630.32px;top:55.40px;font-size:14.1px;line-height:14.1px;font-weight:bold;letter-spacing:0px;color:#f4f6f9;transform:scaleX(0.9846);-webkit-text-stroke:0.3px #f4f6f9;">FVMR</div>
<div class="t" style="left:676.25px;top:55.40px;font-size:14.1px;line-height:14.1px;font-weight:normal;letter-spacing:0px;color:#f4f6f9;transform:scaleX(0.9541);">INVESTING</div>
<div class="t" style="left:631.75px;top:74.60px;font-size:6.8px;line-height:6.8px;font-weight:normal;letter-spacing:0.75px;color:#d5dbe3;transform:scaleX(0.8548);-webkit-text-stroke:0.15px #d5dbe3;">A. STOTZ INVESTMENT RESEARCH</div>
<div class="t" style="left:566.62px;top:169.80px;font-size:17.3px;line-height:17.3px;font-weight:bold;letter-spacing:0px;color:#fff8e8;transform:scaleX(0.9788);">Andrew Stotz,</div>
<div class="t" style="left:683.81px;top:169.80px;font-size:17.3px;line-height:17.3px;font-weight:normal;letter-spacing:0px;color:#fff8e8;transform:scaleX(0.8882);">PhD, CFA</div>
<div class="t" style="left:660.92px;top:405.00px;font-size:9.4px;line-height:9.4px;font-weight:normal;letter-spacing:1.3px;color:#c9d1dc;transform:scaleX(1.0817);">INVESTMENT</div>
<div class="t" style="left:660.93px;top:416.30px;font-size:9.4px;line-height:9.4px;font-weight:normal;letter-spacing:1.3px;color:#c9d1dc;transform:scaleX(1.0717);">RESEARCH</div>
<div class="t" style="left:745.00px;top:417.80px;font-size:7.4px;line-height:7.4px;font-weight:normal;letter-spacing:0px;color:#d0d7e0;transform:scaleX(0.9750);-webkit-text-stroke:0.25px #d0d7e0;">25</div>
</body></html>
